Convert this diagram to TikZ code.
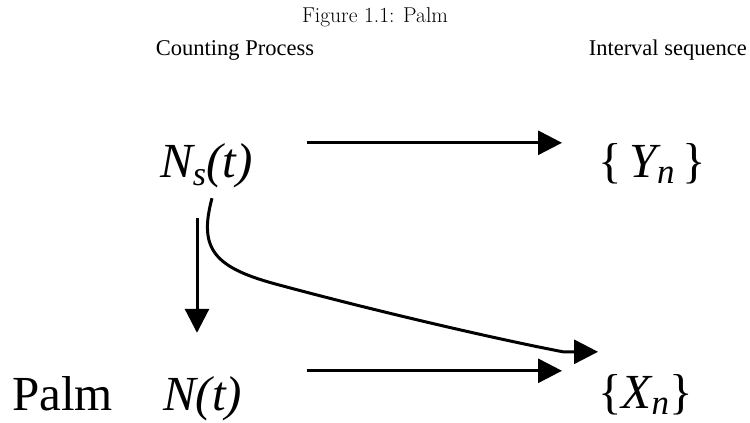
\documentclass[tikz,border=0pt]{standalone}
\usepackage{fontspec}
\newfontfamily\tnr{Liberation Serif}
\usetikzlibrary{arrows.meta,calc}

\begin{document}
\begin{tikzpicture}[x=1pt,y=-1pt,
  lbl/.style={inner sep=0pt, anchor=base west, text height=34pt, text depth=9pt,
              font=\tnr\fontsize{49}{56}\selectfont},
  hdr/.style={inner sep=0pt, anchor=base, font=\tnr\fontsize{22.5}{27}\selectfont},
  ttl/.style={inner sep=0pt, anchor=base, font=\fontsize{21.5}{25}\selectfont},
  arr/.style={line width=3pt, -{Triangle[length=24pt,width=24pt]}}]
\useasboundingbox (0,0) rectangle (750,423);

% caption and column headings
\node[ttl] (title) at (375,22) {Figure 1.1: Palm};
\node[hdr] (cp) at (235,55) {Counting Process};
\node[hdr, anchor=base east] (is) at (747,55) {Interval sequence};

% processes and sequences
\node[lbl] (ns) at (160,177) {\itshape N\lower8pt\hbox{\fontsize{34}{40}\selectfont s}(t)};
\node[lbl] (yn) at (598,177) {\{\,\textit{Y\lower6pt\hbox{\fontsize{35}{40}\selectfont n}}\,\}};
\node[lbl] (pl) at (12,410) {Palm};
\node[lbl] (nt) at (163,410) {\itshape N(t)};
\node[lbl] (xn) at (598,408) {\{\textit{X\lower6pt\hbox{\fontsize{35}{40}\selectfont n}}\}};

% horizontal arrows
\draw[arr, shorten >=36pt] ([xshift=54pt]ns.north east) coordinate (topstart) -- (topstart -| yn.west);
\path ([yshift=5pt]nt.north) coordinate (nttop);
\draw[arr, shorten >=36pt] (nttop -| topstart) -- (nttop -| xn.west);

% vertical arrow
\path ([xshift=37pt,yshift=-32pt]ns.south west) coordinate (dstart);
\draw[arr, shorten >=43pt] (dstart) -- (dstart |- nt.north);

% curved arrow
\path ([xshift=52pt,yshift=-12pt]ns.south west) coordinate (cs);
\path ([yshift=22pt]xn.north west) coordinate (ce);
\draw[arr] (cs) .. controls +(-14,52) and +(-65,-17) .. ($(cs)+(68,87)$)
  .. controls +(100,27) and +(-63,-12) .. ($(ce)+(-35,0)$) -- (ce);
\end{tikzpicture}
\end{document}
